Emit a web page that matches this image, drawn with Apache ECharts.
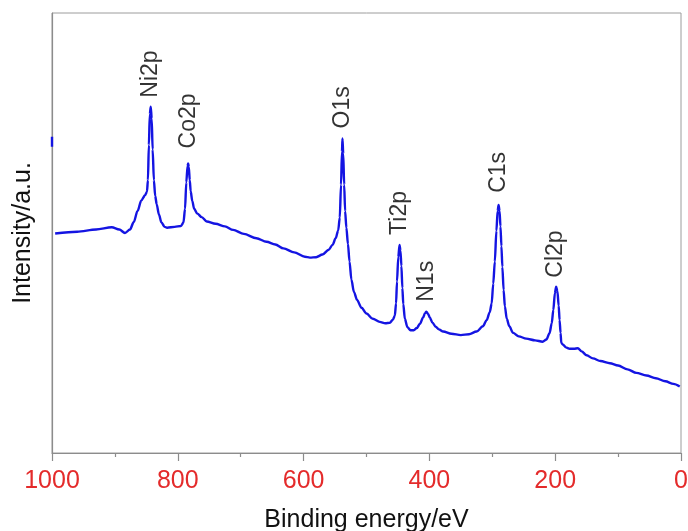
<!DOCTYPE html>
<html>
<head>
<meta charset="utf-8">
<title>XPS survey spectrum</title>
<script src="https://cdn.jsdelivr.net/npm/echarts@6/dist/echarts.min.js"></script>
<style>
  html, body { margin: 0; padding: 0; background: #ffffff; }
  #chart { width: 688px; height: 531px; }
</style>
</head>
<body>
<div id="chart"></div>
<script>
// Survey spectrum: binding energy (eV) and intensity (a.u.)
const bindingEnergy = [
  995, 960, 930, 905, 893, 884, 876, 870, 864, 858,
  852, 849, 847.5, 846, 844.5, 843, 841.5, 840, 838, 836,
  833.5, 830, 826, 821, 817, 805, 795, 791, 788.5, 786.5,
  784.5, 783.5, 782.5, 781, 779.5, 777, 774, 769, 762, 754,
  740, 725, 712, 695, 675, 659, 645, 632, 615, 598,
  590, 580, 570, 560, 554, 549, 545, 542.5, 540.5, 539,
  538.2, 537, 535.5, 534, 532, 529.5, 527, 524, 520, 515,
  508, 500, 490, 479, 470, 463, 458, 455, 453, 451.5,
  449.5, 447.5, 446, 444.5, 443, 441.5, 439, 435, 430, 425,
  420, 415, 410, 407, 404.8, 402, 399.5, 395, 390, 385,
  378, 365, 350, 337, 325, 315, 309, 304, 301, 298.5,
  296, 293.5, 291.5, 290, 288.5, 287, 285.5, 284, 282, 280,
  277, 273, 267, 258, 246, 232, 220, 214, 209, 205.5,
  203, 200.5, 198.5, 196.5, 194.5, 193, 191.5, 190.3, 187.5, 183,
  177, 170, 164, 158, 150, 140, 128, 113, 100, 85,
  71, 55, 40, 25, 12, 2
];
const intensity = [
  49.9, 50.3, 50.8, 51.3, 50.8, 50.0, 50.8, 52.5, 55.0, 57.4,
  58.6, 59.4, 62.0, 70.0, 77.0, 78.7, 76.0, 69.0, 62.0, 58.5,
  56.5, 54.2, 52.4, 51.4, 51.2, 51.4, 51.6, 52.4, 55.5, 61.5,
  65.2, 65.8, 65.0, 62.0, 59.5, 57.3, 55.5, 54.4, 53.6, 52.6,
  52.1, 51.5, 50.7, 49.8, 48.8, 48.0, 47.4, 46.5, 45.6, 44.6,
  44.4, 44.5, 45.1, 46.2, 47.3, 48.8, 50.6, 53.5, 61.0, 68.5,
  71.5, 68.0, 61.0, 55.0, 51.2, 47.5, 43.5, 39.4, 36.6, 34.8,
  33.0, 31.7, 30.5, 29.8, 29.5, 29.6, 30.3, 31.2, 34.0, 39.0,
  44.5, 47.3, 46.0, 42.5, 37.5, 33.8, 30.5, 28.6, 27.9, 27.9,
  28.4, 29.4, 30.8, 31.8, 32.1, 31.6, 30.8, 29.6, 28.7, 28.1,
  27.6, 27.1, 26.8, 27.0, 27.6, 28.8, 30.2, 32.0, 34.0, 38.5,
  43.5, 50.5, 55.0, 56.4, 55.0, 51.5, 47.0, 42.3, 37.0, 33.3,
  30.5, 28.8, 27.3, 26.5, 26.0, 25.6, 25.3, 25.8, 27.2, 29.5,
  32.5, 36.3, 37.8, 36.8, 33.5, 30.2, 27.3, 25.0, 24.6, 24.0,
  23.7, 23.7, 23.8, 23.1, 22.2, 21.5, 20.9, 20.4, 19.9, 19.0,
  18.2, 17.6, 17.0, 16.3, 15.7, 15.1
];

// Short trace recorded at the 1000 eV edge
const edgeEnergy = [1000, 1000];
const edgeIntensity = [69.6, 71.9];

// Assigned core levels and the energies of their peak maxima
const peakNames = ['Ni2p', 'Co2p', 'O1s', 'Ti2p', 'N1s', 'C1s', 'Cl2p'];
const peakEnergy = [843, 783.5, 538.2, 447.5, 404.8, 290, 198.5];

// Tick values along the energy axis
const energyTicks = [1000, 800, 600, 400, 200, 0];

const FONT = '"Liberation Sans", Arial, Helvetica, sans-serif';
const LINE_BLUE = '#1414e2';

const spectrum = bindingEnergy.map((e, i) => [e, intensity[i]]);
const edgeTrace = edgeEnergy.map((e, i) => [e, edgeIntensity[i]]);

// Gap between a peak maximum and the start of its tag
const tagGap = { Ni2p: 9, Co2p: 15, O1s: 10, Ti2p: 10, N1s: 10, C1s: 12, Cl2p: 9 };

const peakTags = peakNames.map((name, i) => {
  const idx = bindingEnergy.indexOf(peakEnergy[i]);
  return {
    name: name,
    value: [peakEnergy[i], intensity[idx]],
    label: { distance: tagGap[name] }
  };
});

const chart = echarts.init(document.getElementById('chart'), null, { renderer: 'canvas' });

chart.setOption({
  animation: false,
  backgroundColor: '#ffffff',
  grid: {
    left: 52, right: 7, top: 13, bottom: 78,
    containLabel: false,
    outerBoundsMode: 'none',
    show: true,
    borderColor: '#9c9c9c',
    borderWidth: 1,
    backgroundColor: 'transparent'
  },
  xAxis: {
    type: 'value',
    inverse: true,
    min: 0,
    max: 1000,
    interval: 200,
    name: 'Binding energy/eV',
    nameLocation: 'middle',
    nameGap: 55,
    nameTextStyle: { color: '#111111', fontSize: 25, fontFamily: FONT },
    axisLine: { show: true, onZero: false, lineStyle: { color: '#8c8c8c', width: 1.2 } },
    axisTick: { show: true, inside: false, length: 8, lineStyle: { color: '#8c8c8c', width: 1.2 } },
    minorTick: { show: true, splitNumber: 2, length: 4, lineStyle: { color: '#8c8c8c', width: 1.2 } },
    axisLabel: {
      color: '#e42b2b',
      fontSize: 25,
      fontFamily: FONT,
      margin: 16,
      formatter: v => (energyTicks.indexOf(v) >= 0 ? String(v) : '')
    },
    splitLine: { show: false },
    minorSplitLine: { show: false }
  },
  yAxis: {
    type: 'value',
    min: 0,
    max: 100,
    name: 'Intensity/a.u.',
    nameLocation: 'middle',
    nameGap: 16,
    nameTextStyle: { color: '#111111', fontSize: 25, fontFamily: FONT },
    axisLine: { show: true, onZero: false, lineStyle: { color: '#8c8c8c', width: 1.2 } },
    axisTick: { show: false },
    axisLabel: { show: false },
    splitLine: { show: false }
  },
  series: [
    {
      name: 'spectrum',
      type: 'line',
      data: spectrum,
      showSymbol: false,
      symbol: 'none',
      smooth: 0.3,
      smoothMonotone: 'x',
      lineStyle: { color: LINE_BLUE, width: 2.4 },
      z: 3
    },
    {
      name: 'edge',
      type: 'line',
      data: edgeTrace,
      showSymbol: false,
      symbol: 'none',
      lineStyle: { color: LINE_BLUE, width: 2.4 },
      z: 3
    },
    {
      name: 'peak tags',
      type: 'scatter',
      data: peakTags,
      symbolSize: 0,
      itemStyle: { color: 'transparent' },
      label: {
        show: true,
        formatter: '{b}',
        position: 'top',
        rotate: 90,
        align: 'left',
        verticalAlign: 'middle',
        color: '#000000',
        fontSize: 23,
        fontFamily: FONT
      },
      emphasis: { disabled: true },
      z: 4
    }
  ]
});
</script>
</body>
</html>
